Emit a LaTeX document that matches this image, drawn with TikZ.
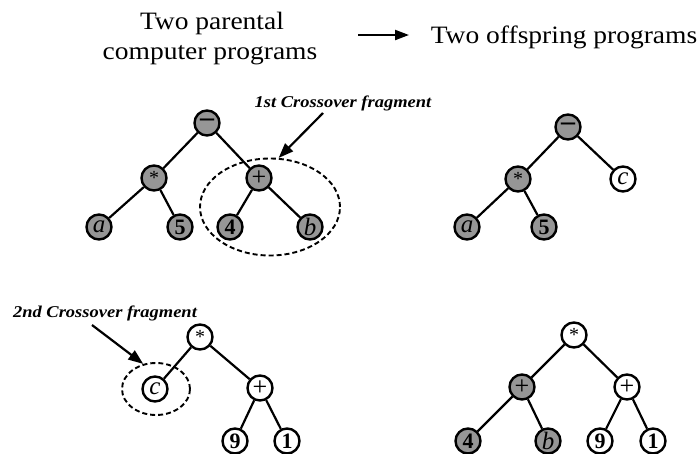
\documentclass[tikz,border=0pt]{standalone}
\usepackage{fontspec}
\setmainfont{Liberation Serif}
\usetikzlibrary{arrows.meta,shapes.geometric}
\definecolor{nodegray}{RGB}{150,150,150}

\begin{document}
\begin{tikzpicture}[x=1pt,y=-1pt,
  tn/.style={circle, draw, line width=2.4pt, minimum size=25pt, inner sep=0pt},
  gr/.style={tn, fill=nodegray},
  wh/.style={tn, fill=white},
  edge/.style={line width=2.2pt},
  frag/.style={ellipse, draw, line width=1.9pt, dash pattern=on 5pt off 3pt, inner sep=0pt},
  pointer/.style={line width=2.2pt, -{Triangle[length=15pt,width=11pt]}},
  head/.style={anchor=base, font=\fontsize{25}{30}\selectfont},
  note/.style={anchor=base, font=\fontsize{16.5}{20}\selectfont\bfseries\itshape},
  var/.style={font=\fontsize{25}{25}\selectfont\itshape},
  num/.style={font=\fontsize{22}{22}\selectfont\bfseries},
  op/.style={font=\fontsize{26}{26}\selectfont},
  star/.style={font=\fontsize{20}{20}\selectfont},
  minus/.style={font=\fontsize{28}{28}\selectfont\bfseries}
]
\useasboundingbox (0,0) rectangle (700,453);

% headings
\node[head] (par1) at (212,29) {\scalebox{1.1}[1]{Two parental}};
\node[head] (par2) at (210,59) {\scalebox{1.1}[1]{computer programs}};
\node[head] (off) at (564,43) {\scalebox{1.1}[1]{Two offspring programs}};
\coordinate (ha) at (358,35);
\coordinate (hb) at (409,35);
\draw[line width=2.2pt, -{Triangle[length=14pt,width=10pt]}] (ha) -- (hb);

% first parent: (a*5) - (4+b)
\node[gr, minus] (m1) at (207,123) {–};
\node[gr, star] (s1) at (154,178) {*};
\node[gr, op] (p1) at (259,178) {+};
\node[gr, var] (a1) at (99,227) {a};
\node[gr, num] (f1) at (180,227) {5};
\node[gr, num] (q1) at (230,227) {4};
\node[gr, var] (b1) at (310,227) {b};
\draw[edge] (m1) -- (s1);
\draw[edge] (m1) -- (p1);
\draw[edge] (s1) -- (a1);
\draw[edge] (s1) -- (f1);
\draw[edge] (p1) -- (q1);
\draw[edge] (p1) -- (b1);

% first crossover fragment
\node[frag, minimum width=140pt, minimum height=97pt] (fr1) at (270,207) {};
\node[note] (lab1) at (343,107) {\scalebox{1.12}[1]{1st Crossover fragment}};
\coordinate (t1) at (323,113);
\draw[pointer] (t1) -- (fr1.80);

% first offspring: (a*5) - c
\node[gr, minus] (m2) at (568,127) {–};
\node[gr, star] (s2) at (518,179) {*};
\node[wh, var] (c2) at (623,179) {c};
\node[gr, var] (a2) at (467,227) {a};
\node[gr, num] (f2) at (544,227) {5};
\draw[edge] (m2) -- (s2);
\draw[edge] (m2) -- (c2);
\draw[edge] (s2) -- (a2);
\draw[edge] (s2) -- (f2);

% second parent: c * (9+1)
\node[wh, star] (s3) at (200,337) {*};
\node[wh, var] (c3) at (155,389) {c};
\node[wh, op] (p3) at (260,388) {+};
\node[wh, num] (n3) at (235,441) {9};
\node[wh, num] (o3) at (287,441) {1};
\draw[edge] (s3) -- (c3);
\draw[edge] (s3) -- (p3);
\draw[edge] (p3) -- (n3);
\draw[edge] (p3) -- (o3);

% second crossover fragment
\node[frag, minimum width=68pt, minimum height=52pt] (fr2) at (156,389) {};
\node[note] (lab2) at (105,317) {\scalebox{1.12}[1]{2nd Crossover fragment}};
\coordinate (t2) at (92,325);
\draw[pointer] (t2) -- (fr2.117);

% second offspring: (4+b) * (9+1)
\node[wh, star] (s4) at (574,335) {*};
\node[gr, op] (p4) at (522,387) {+};
\node[wh, op] (p5) at (627,387) {+};
\node[gr, num] (q4) at (468,441) {4};
\node[gr, var] (b4) at (548,441) {b};
\node[wh, num] (n4) at (600,441) {9};
\node[wh, num] (o4) at (653,441) {1};
\draw[edge] (s4) -- (p4);
\draw[edge] (s4) -- (p5);
\draw[edge] (p4) -- (q4);
\draw[edge] (p4) -- (b4);
\draw[edge] (p5) -- (n4);
\draw[edge] (p5) -- (o4);
\end{tikzpicture}
\end{document}
